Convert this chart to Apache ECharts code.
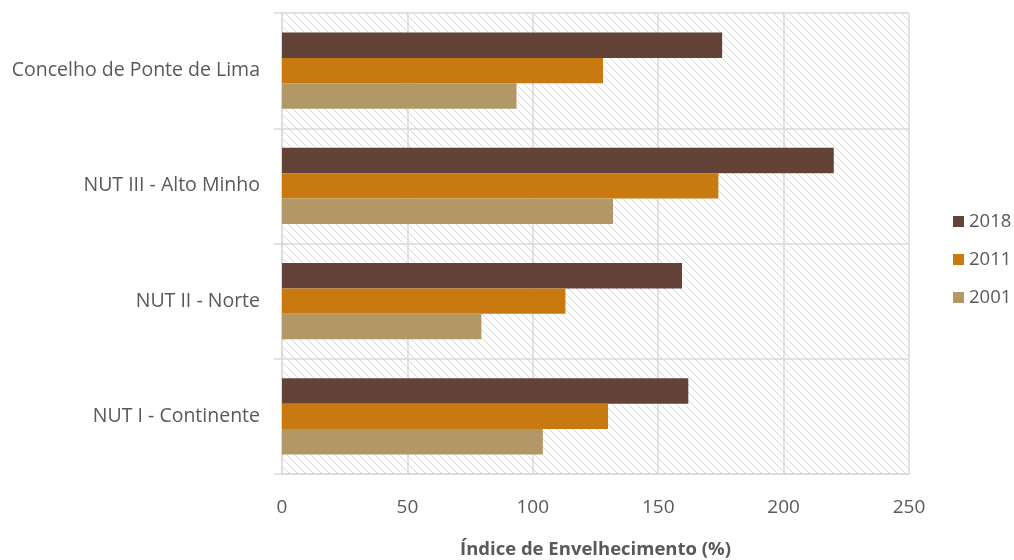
<!DOCTYPE html>
<html><head><meta charset="utf-8">
<script src="https://cdn.jsdelivr.net/npm/echarts@6/dist/echarts.min.js"></script>
<style>html,body{margin:0;padding:0;background:#fff}#c{width:1014px;height:560px}</style>
</head><body><div id="c"></div>
<script>
const categories = ['NUT I - Continente', 'NUT II - Norte', 'NUT III - Alto Minho', 'Concelho de Ponte de Lima'];
const values2001 = [104, 79.5, 132, 93.5];
const values2011 = [130, 113, 174, 128];
const values2018 = [162, 159.5, 220, 175.5];
const xTicks = [0, 50, 100, 150, 200, 250];

function hatch() {
  const c = document.createElement('canvas');
  c.width = 8; c.height = 8;
  const g = c.getContext('2d');
  g.fillStyle = '#fff'; g.fillRect(0, 0, 8, 8);
  g.strokeStyle = '#d6d6d6'; g.lineWidth = 1;
  g.beginPath();
  g.moveTo(-1, -1); g.lineTo(9, 9);
  g.moveTo(-1, 7); g.lineTo(1, 9);
  g.moveTo(7, -1); g.lineTo(9, 1);
  g.stroke();
  return c;
}

const font = '"Open Sans", sans-serif';
const chart = echarts.init(document.getElementById('c'));
chart.setOption({
  animation: false,
  textStyle: { fontFamily: font },
  grid: {
    left: 282, right: 105, top: 13, bottom: 86,
    containLabel: false, outerBoundsMode: 'none',
    show: true, borderWidth: 0,
    backgroundColor: { image: hatch(), repeat: 'repeat' }
  },
  legend: {
    data: ['2018', '2011', '2001'],
    orient: 'vertical', left: 948, top: 207,
    itemWidth: 11, itemHeight: 11, itemGap: 19, icon: 'rect',
    textStyle: { color: '#595959', fontSize: 18.5, fontFamily: font }
  },
  xAxis: {
    type: 'value', min: xTicks[0], max: xTicks[xTicks.length - 1], interval: 50,
    axisLine: { show: true, lineStyle: { color: '#d9d9d9', width: 1.5 } },
    axisTick: { show: false },
    splitLine: { show: true, lineStyle: { color: '#d9d9d9', width: 1.5 } },
    axisLabel: { color: '#595959', fontSize: 19, margin: 24 },
    name: 'Índice de Envelhecimento (%)', nameLocation: 'middle', nameGap: 66,
    nameTextStyle: { color: '#595959', fontSize: 18.5, fontWeight: 'bold' }
  },
  yAxis: {
    type: 'category', data: categories,
    axisLine: { show: true, lineStyle: { color: '#d9d9d9', width: 1.5 } },
    axisTick: { show: true, length: 8, lineStyle: { color: '#d9d9d9', width: 1.5 } },
    splitLine: { show: true, lineStyle: { color: '#d9d9d9', width: 1.5 } },
    axisLabel: { color: '#595959', fontSize: 19.5, margin: 22 }
  },
  series: [
    { name: '2018', type: 'bar', data: values2018, itemStyle: { color: '#634238' }, barGap: '0%', barCategoryGap: '34%' },
    { name: '2011', type: 'bar', data: values2011, itemStyle: { color: '#c87a10' }, barGap: '0%', barCategoryGap: '34%' },
    { name: '2001', type: 'bar', data: values2001, itemStyle: { color: '#b39867' }, barGap: '0%', barCategoryGap: '34%' }
  ]
});
</script></body></html>
